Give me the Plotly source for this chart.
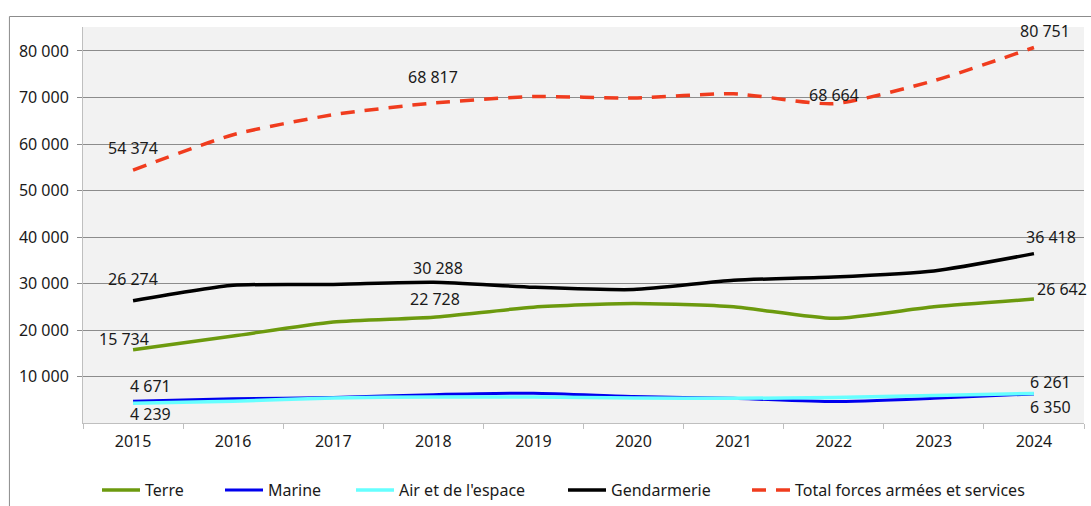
import plotly.graph_objects as go

years = ["2015", "2016", "2017", "2018", "2019", "2020", "2021", "2022", "2023", "2024"]
terre = [15734, 18700, 21700, 22728, 24900, 25700, 25000, 22500, 25000, 26642]
marine = [4671, 5200, 5500, 6100, 6400, 5700, 5300, 4600, 5300, 6261]
air = [4239, 4700, 5400, 5600, 5600, 5400, 5300, 5500, 5900, 6350]
gendarmerie = [26274, 29600, 29800, 30288, 29200, 28700, 30700, 31400, 32700, 36418]
total = [54374, 62000, 66300, 68817, 70200, 69900, 70800, 68664, 73600, 80751]

FONT = "Noto Sans"
TXT = "#1a1a1a"

series = [
    ("Terre", terre, dict(color="#6C9A0E", width=3.5)),
    ("Marine", marine, dict(color="#0000EE", width=3)),
    ("Air et de l'espace", air, dict(color="#66FFFF", width=3.5)),
    ("Gendarmerie", gendarmerie, dict(color="#000000", width=3.5)),
    ("Total forces armées et services", total, dict(color="#F03C1E", width=3.5, dash="14px,10px")),
]
legend_names = ["legend", "legend2", "legend3", "legend4", "legend5"]
legend_px = [97, 220, 351, 563, 747]

fig = go.Figure()
for (name, vals, line), lg in zip(series, legend_names):
    fig.add_trace(go.Scatter(x=years, y=vals, name=name, mode="lines", legend=lg,
                             line=dict(shape="spline", smoothing=0.6, **line)))

# label placement: (series values, index, xshift, yshift)
label_cfg = [
    (total, 0, 0, 22), (total, 3, 0, 26), (total, 7, 0, 9), (total, 9, 11, 17),
    (gendarmerie, 0, 0, 22), (gendarmerie, 3, 5, 14), (gendarmerie, 9, 17, 17),
    (terre, 0, -9, 11), (terre, 3, 2, 18), (terre, 9, 28, 10),
    (marine, 0, 17, 15), (marine, 9, 17, 12),
    (air, 0, 17, -11), (air, 9, 17, -14),
]

def fmt(v):
    return f"{v:,}".replace(",", " ")

for vals, i, xs, ys in label_cfg:
    fig.add_annotation(x=i, y=vals[i], text=fmt(vals[i]), showarrow=False,
                       xshift=xs, yshift=ys, font=dict(family=FONT, size=16, color=TXT))

# outer frame
fig.add_shape(type="rect", xref="paper", yref="paper", x0=-0.0735, x1=1.02, y0=-0.3, y1=1.0265,
              line=dict(color="#8c8c8c", width=1), fillcolor="rgba(0,0,0,0)", layer="below")

leg_common = dict(orientation="h", xanchor="left", yref="container", y=(506 - 490) / 506,
                  yanchor="middle", xref="container", itemwidth=38,
                  font=dict(family=FONT, size=16, color=TXT), bgcolor="rgba(0,0,0,0)")
legends = {lg: dict(x=px / 1091, **leg_common) for lg, px in zip(legend_names, legend_px)}

fig.update_layout(
    width=1091, height=506,
    margin=dict(l=83, r=7, t=27, b=83),
    paper_bgcolor="white", plot_bgcolor="#F2F2F2",
    separators=", ",
    font=dict(family=FONT, size=16, color=TXT),
    showlegend=True,
    xaxis=dict(type="category", range=[-0.5, 9.5], showgrid=False, tickson="boundaries",
               ticks="outside", ticklen=5, tickcolor="#BFBFBF", showline=True,
               linecolor="#BFBFBF", linewidth=1, tickangle=0, ticklabelstandoff=4,
               tickfont=dict(family=FONT, size=16, color=TXT)),
    yaxis=dict(range=[0, 85160], tickvals=[10000, 20000, 30000, 40000, 50000, 60000, 70000, 80000],
               tickformat=",d", showgrid=True, gridcolor="#8c8c8c", gridwidth=1,
               ticks="outside", ticklen=5, tickcolor="#8c8c8c",
               showline=True, linecolor="#BFBFBF", linewidth=1, zeroline=False,
               tickfont=dict(family=FONT, size=16, color=TXT), ticklabelstandoff=5),
    **legends,
)

fig.write_html("out.html", config={"displayModeBar": False},
               post_script="document.body.style.margin='0px';")
